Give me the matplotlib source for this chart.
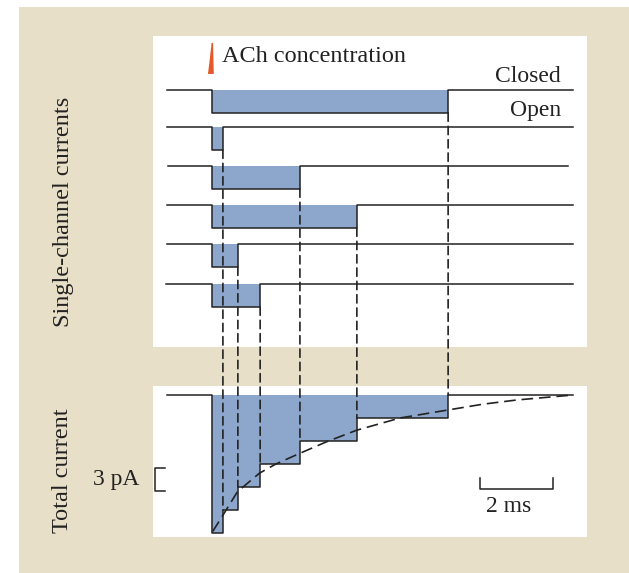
import numpy as np
import matplotlib
matplotlib.use("Agg")
import matplotlib.pyplot as plt
from matplotlib.patches import Rectangle, Polygon, ConnectionPatch

plt.rcParams['font.family'] = ['Liberation Serif', 'DejaVu Serif']

# single channel records (time in ms, current in pA)
open_t = [0.0, 0.0, 0.0, 0.0, 0.0, 0.0]
close_t = [6.47, 0.30, 2.41, 3.97, 0.71, 1.32]
trace_start = [-1.23, -1.23, -1.20, -1.23, -1.23, -1.26]
trace_end = [9.89, 9.89, 9.75, 9.89, 9.89, 9.89]
baseline = [0.0, -4.83, -9.91, -15.0, -20.09, -25.3]
amp = 3.0

# dashed exponential decay
fit_t = [0.02, 0.31, 0.70, 1.30, 1.75, 2.41, 3.14, 3.96, 5.15, 6.47, 7.42, 8.35, 9.89]
fit_i = [-17.8, -15.6, -12.6, -10.2, -9.0, -7.6, -6.1, -4.6, -3.0, -1.95, -1.2, -0.65, 0.0]

beige = "#e8dfc8"
blue = "#8da6cc"
ink = "#222222"

fig = plt.figure(figsize=(6.29, 5.73), dpi=100)
fig.patch.set_facecolor("white")
fig.add_artist(Rectangle((19 / 629, 0), 1, 1 - 7 / 573, transform=fig.transFigure,
                         facecolor=beige, edgecolor="none", zorder=-5))

xlim = (-1.616, 10.274)
ax1 = fig.add_axes([0.2432, 0.3944, 0.690, 0.5428])
ax2 = fig.add_axes([0.2432, 0.0628, 0.690, 0.2635])
for ax in (ax1, ax2):
    ax.set_xlim(*xlim)
    ax.set_axis_off()
    ax.add_patch(Rectangle((0, 0), 1, 1, transform=ax.transAxes, facecolor="white",
                           edgecolor="none", zorder=-1))
ax1.set_ylim(-33.52, 7.04)
ax2.set_ylim(-18.52, 1.17)

# single-channel traces
for i in range(len(close_t)):
    b = baseline[i]
    t0, t1 = open_t[i], close_t[i]
    ax1.fill_between([t0, t1], b, b - amp, color=blue, lw=0)
    ax1.plot([trace_start[i], t0, t0, t1, t1, trace_end[i]],
             [b, b, b - amp, b - amp, b, b], color=ink, lw=1.1)

# ACh pulse wedge
ax1.add_patch(Polygon([(-0.11, 2.09), (0.05, 2.09), (0.03, 6.13), (-0.01, 6.13), (-0.07, 3.6)],
                      closed=True, facecolor="#e4582a", edgecolor="none"))
ax1.text(0.27, 3.65, "ACh concentration", fontsize=17.5, color=ink, va="baseline", ha="left")
ax1.text(9.56, 1.04, "Closed", fontsize=17, color=ink, va="baseline", ha="right")
ax1.text(9.56, -2.7, "Open", fontsize=17, color=ink, va="center", ha="right")

# total current = sum of open channels
n = len(close_t)
steps_t = [0.0] + sorted(close_t)
steps_i = [-amp * (n - k) for k in range(n)] + [0.0]
tx = [trace_start[0], 0.0]
iy = [0.0, 0.0]
for k in range(n):
    tx += [steps_t[k], steps_t[k + 1]]
    iy += [steps_i[k], steps_i[k]]
tx += [steps_t[-1], trace_end[0]]
iy += [0.0, 0.0]
ax2.fill_between(steps_t, 0, steps_i, step="post", color=blue, lw=0)
ax2.plot(tx, iy, color=ink, lw=1.1)
ax2.plot(fit_t, fit_i, color=ink, lw=1.2, ls=(0, (7, 3.5)))

# dashed links between each closing and the total current step
order = np.argsort(close_t)
for k, idx in enumerate(order):
    ct = close_t[idx]
    level = -amp * (n - k - 1)
    con = ConnectionPatch(xyA=(ct, baseline[idx] - amp), coordsA=ax1.transData,
                          xyB=(ct, level), coordsB=ax2.transData,
                          arrowstyle="-", color=ink, lw=1.2, linestyle=(0, (5, 3)))
    fig.add_artist(con)

# scale bars
ax2.plot([-1.29, -1.56, -1.56, -1.29], [-9.52, -9.52, -12.52, -12.52], color=ink, lw=1.1, clip_on=False)
ax2.text(-1.98, -11.0, "3 pA", fontsize=17, color=ink, ha="right", va="center")
ax2.plot([7.34, 7.34, 9.34, 9.34], [-10.8, -12.26, -12.26, -10.8], color=ink, lw=1.1)
ax2.text(8.12, -14.6, "2 ms", fontsize=17, color=ink, ha="center", va="center")

fig.text(63 / 629, 1 - 212 / 573, "Single-channel currents", rotation=90, fontsize=17.5,
         color=ink, ha="center", va="center")
fig.text(63 / 629, 1 - 471 / 573, "Total current", rotation=90, fontsize=17.5,
         color=ink, ha="center", va="center")

fig.savefig("out.png", dpi=100)
